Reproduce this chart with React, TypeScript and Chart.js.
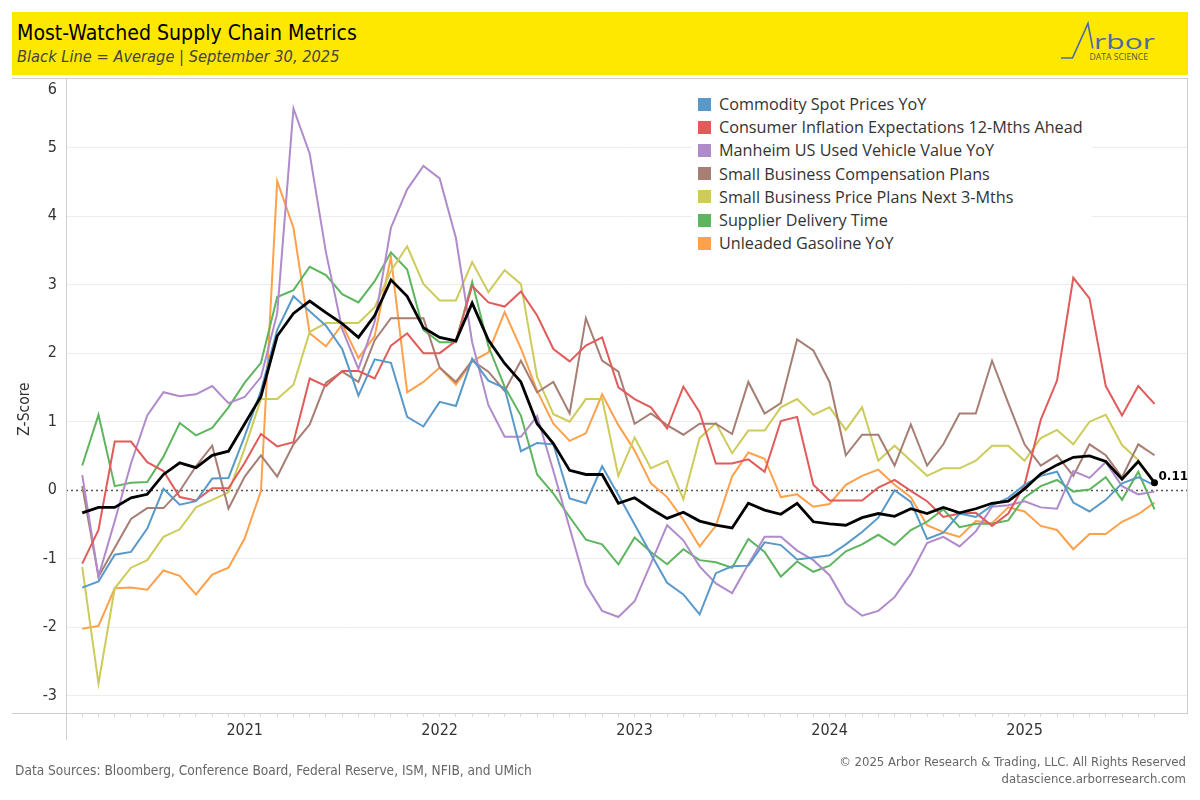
import React, { useEffect, useRef } from "react";
import { Chart, registerables } from "chart.js";

Chart.register(...registerables);

// Monthly observations, Mar 2020 – Sep 2025
const months = [
  "2020-03", "2020-04", "2020-05", "2020-06", "2020-07", "2020-08", "2020-09", "2020-10", "2020-11", "2020-12",
  "2021-01", "2021-02", "2021-03", "2021-04", "2021-05", "2021-06", "2021-07", "2021-08", "2021-09", "2021-10", "2021-11", "2021-12",
  "2022-01", "2022-02", "2022-03", "2022-04", "2022-05", "2022-06", "2022-07", "2022-08", "2022-09", "2022-10", "2022-11", "2022-12",
  "2023-01", "2023-02", "2023-03", "2023-04", "2023-05", "2023-06", "2023-07", "2023-08", "2023-09", "2023-10", "2023-11", "2023-12",
  "2024-01", "2024-02", "2024-03", "2024-04", "2024-05", "2024-06", "2024-07", "2024-08", "2024-09", "2024-10", "2024-11", "2024-12",
  "2025-01", "2025-02", "2025-03", "2025-04", "2025-05", "2025-06", "2025-07", "2025-08", "2025-09",
];

const commoditySpot = [
  -1.42, -1.33, -0.94, -0.9, -0.56, 0.02, -0.21, -0.16, 0.17, 0.18,
  0.79, 1.45, 2.34, 2.83, 2.61, 2.4, 2.06, 1.38, 1.91, 1.86, 1.07, 0.93,
  1.29, 1.23, 1.92, 1.6, 1.49, 0.57, 0.69, 0.67, -0.12, -0.19, 0.35, -0.07,
  -0.5, -0.93, -1.35, -1.52, -1.81, -1.21, -1.11, -1.1, -0.76, -0.8, -1.01, -0.98,
  -0.95, -0.79, -0.61, -0.4, 0.0, -0.17, -0.71, -0.62, -0.34, -0.39, -0.22, -0.11,
  0.08, 0.21, 0.27, -0.18, -0.31, -0.14, 0.1, 0.19, 0.07,
];

const inflationExpectations = [
  -1.07, -0.58, 0.71, 0.71, 0.41, 0.28, -0.1, -0.15, 0.03, 0.03,
  0.4, 0.82, 0.64, 0.7, 1.63, 1.52, 1.74, 1.74, 1.63, 2.11, 2.29, 2.0,
  2.0, 2.18, 2.98, 2.74, 2.68, 2.9, 2.55, 2.06, 1.88, 2.11, 2.23, 1.5,
  1.33, 1.21, 0.9, 1.51, 1.14, 0.39, 0.39, 0.45, 0.27, 1.01, 1.07, 0.08,
  -0.15, -0.15, -0.15, 0.04, 0.15, -0.01, -0.16, -0.39, -0.34, -0.33, -0.52, -0.34,
  0.08, 1.03, 1.6, 3.1, 2.8, 1.52, 1.09, 1.52, 1.26,
];

const manheimUsedVehicles = [
  0.22, -1.26, -0.45, 0.39, 1.09, 1.43, 1.37, 1.4, 1.52, 1.27,
  1.36, 1.65, 2.58, 5.57, 4.91, 3.47, 2.35, 1.77, 2.46, 3.83, 4.39, 4.73,
  4.55, 3.68, 2.16, 1.24, 0.78, 0.78, 1.08, 0.28, -0.55, -1.38, -1.76, -1.85,
  -1.62, -1.07, -0.51, -0.73, -1.11, -1.36, -1.5, -1.08, -0.68, -0.68, -0.88, -1.02,
  -1.24, -1.65, -1.83, -1.76, -1.56, -1.22, -0.77, -0.68, -0.82, -0.6, -0.24, -0.22,
  -0.16, -0.25, -0.27, 0.28, 0.18, 0.41, 0.06, -0.06, -0.02,
];

const compensationPlans = [
  0.06, -1.26, -0.84, -0.42, -0.26, -0.26, -0.01, 0.35, 0.65, -0.27,
  0.2, 0.51, 0.2, 0.67, 0.96, 1.57, 1.73, 1.58, 2.19, 2.51, 2.51, 2.51,
  1.79, 1.58, 1.89, 1.73, 1.45, 1.89, 1.43, 1.58, 1.12, 2.51, 1.89, 1.73,
  0.97, 1.12, 0.95, 0.81, 0.97, 0.97, 0.82, 1.58, 1.12, 1.27, 2.2, 2.04,
  1.58, 0.51, 0.81, 0.81, 0.36, 0.96, 0.36, 0.67, 1.12, 1.12, 1.89, 1.27,
  0.67, 0.36, 0.51, 0.21, 0.67, 0.51, 0.19, 0.67, 0.51,
];

const pricePlans = [
  -1.12, -2.82, -1.43, -1.13, -1.02, -0.68, -0.57, -0.25, -0.14, -0.03,
  0.61, 1.33, 1.33, 1.54, 2.31, 2.44, 2.44, 2.44, 2.67, 3.2, 3.56, 3.01,
  2.77, 2.77, 3.33, 2.89, 3.21, 3.01, 1.65, 1.11, 1.0, 1.33, 1.33, 0.21,
  0.77, 0.32, 0.43, -0.13, 0.76, 0.98, 0.54, 0.87, 0.87, 1.21, 1.33, 1.1,
  1.21, 0.88, 1.21, 0.43, 0.65, 0.43, 0.21, 0.32, 0.32, 0.43, 0.65, 0.65,
  0.43, 0.76, 0.88, 0.67, 1.0, 1.1, 0.66, 0.44, null,
];

const supplierDeliveries = [
  0.36, 1.1, 0.06, 0.11, 0.12, 0.49, 0.98, 0.8, 0.91, 1.21,
  1.57, 1.86, 2.82, 2.92, 3.26, 3.14, 2.86, 2.74, 3.05, 3.47, 3.22, 2.34,
  2.16, 2.16, 3.04, 2.1, 1.51, 1.09, 0.23, -0.05, -0.39, -0.72, -0.79, -1.08,
  -0.69, -0.9, -1.08, -0.86, -1.02, -1.05, -1.13, -0.71, -0.9, -1.26, -1.04, -1.19,
  -1.1, -0.89, -0.79, -0.65, -0.8, -0.58, -0.46, -0.28, -0.54, -0.49, -0.49, -0.44,
  -0.11, 0.06, 0.15, -0.02, 0.01, 0.19, -0.14, 0.27, -0.28,
];

const gasoline = [
  -2.02, -1.98, -1.43, -1.42, -1.45, -1.17, -1.25, -1.52, -1.23, -1.13,
  -0.7, -0.01, 4.51, 3.83, 2.29, 2.1, 2.42, 1.93, 2.25, 3.4, 1.43, 1.58,
  1.79, 1.54, 1.88, 2.01, 2.6, 2.07, 1.45, 0.97, 0.72, 0.83, 1.4, 0.95,
  0.58, 0.1, -0.1, -0.43, -0.82, -0.52, 0.2, 0.55, 0.46, -0.1, -0.06, -0.24,
  -0.2, 0.08, 0.21, 0.3, 0.08, -0.1, -0.51, -0.61, -0.68, -0.45, -0.48, -0.25,
  -0.31, -0.52, -0.58, -0.86, -0.64, -0.64, -0.46, -0.35, -0.18,
];

const average = [
  -0.33, -0.25, -0.25, -0.11, -0.06, 0.23, 0.4, 0.33, 0.51, 0.57,
  0.97, 1.37, 2.25, 2.58, 2.76, 2.59, 2.43, 2.23, 2.55, 3.07, 2.83, 2.37,
  2.23, 2.18, 2.73, 2.19, 1.85, 1.58, 0.97, 0.68, 0.29, 0.23, 0.23, -0.19,
  -0.11, -0.27, -0.41, -0.32, -0.45, -0.51, -0.55, -0.19, -0.29, -0.35, -0.19, -0.46,
  -0.49, -0.51, -0.4, -0.34, -0.38, -0.27, -0.34, -0.25, -0.33, -0.27, -0.19, -0.16,
  0.02, 0.24, 0.37, 0.48, 0.5, 0.42, 0.16, 0.42, 0.11,
];

const seriesNames = [
  "Commodity Spot Prices YoY",
  "Consumer Inflation Expectations 12-Mths Ahead",
  "Manheim US Used Vehicle Value YoY",
  "Small Business Compensation Plans",
  "Small Business Price Plans Next 3-Mths",
  "Supplier Delivery Time",
  "Unleaded Gasoline YoY",
];

const seriesColors = ["#5899ca", "#e15b5b", "#b08bcc", "#a67e73", "#cdcb5a", "#5db55e", "#ffa04b"];

const yTickValues = [-3, -2, -1, 0, 1, 2, 3, 4, 5, 6];
const yearLabels = ["2021", "2022", "2023", "2024", "2025"];

const NARROW = "'DejaVu Sans Condensed', 'Liberation Sans Narrow', 'DejaVu Sans', sans-serif";
const LEGEND_FONT = "'Open Sans', 'DejaVu Sans', sans-serif";

export default function App() {
  const canvasRef = useRef<HTMLCanvasElement | null>(null);

  useEffect(() => {
    const canvas = canvasRef.current;
    if (!canvas) return;
    const seriesData = [
      commoditySpot,
      inflationExpectations,
      manheimUsedVehicles,
      compensationPlans,
      pricePlans,
      supplierDeliveries,
      gasoline,
    ];
    const toXY = (arr: (number | null)[]) => arr.map((v, i) => ({ x: i, y: v }));
    const lastIdx = average.length - 1;

    const overlay = {
      id: "overlay",
      beforeDatasetsDraw(chart: any) {
        const { ctx, chartArea } = chart;
        const y0 = chart.scales.y.getPixelForValue(0);
        ctx.save();
        ctx.strokeStyle = "#555";
        ctx.lineWidth = 1.3;
        ctx.setLineDash([2, 3]);
        ctx.beginPath();
        ctx.moveTo(chartArea.left, Math.round(y0) + 0.5);
        ctx.lineTo(chartArea.right, Math.round(y0) + 0.5);
        ctx.stroke();
        ctx.restore();
      },
      afterDraw(chart: any) {
        const { ctx, chartArea } = chart;
        const ys = chart.scales.y;
        ctx.save();
        // frame lines
        ctx.strokeStyle = "#cfcfcf";
        ctx.lineWidth = 1;
        ctx.beginPath();
        ctx.moveTo(12, chartArea.top - 0.5);
        ctx.lineTo(1188, chartArea.top - 0.5);
        ctx.moveTo(12, chartArea.bottom + 0.5);
        ctx.lineTo(1188, chartArea.bottom + 0.5);
        ctx.moveTo(chartArea.left + 0.5, chartArea.top);
        ctx.lineTo(chartArea.left + 0.5, chartArea.bottom + 27);
        ctx.moveTo(chartArea.right + 0.5, chartArea.top);
        ctx.lineTo(chartArea.right + 0.5, chartArea.bottom);
        ctx.stroke();

        // top tick label, nudged inside the pane
        const top = yTickValues[yTickValues.length - 1];
        ctx.fillStyle = "#333";
        ctx.font = `16px ${NARROW}`;
        ctx.textAlign = "right";
        ctx.textBaseline = "middle";
        ctx.fillText(String(top), chartArea.left - 9, ys.getPixelForValue(top) + 11);

        // axis title
        ctx.save();
        ctx.translate(25, (chartArea.top + chartArea.bottom) / 2 + 13);
        ctx.rotate(-Math.PI / 2);
        ctx.textAlign = "center";
        ctx.font = `15.5px ${NARROW}`;
        ctx.fillStyle = "#333";
        ctx.fillText("Z-Score", 0, 0);
        ctx.restore();

        // last value label of the average line
        const meta = chart.getDatasetMeta(0);
        const pt = meta.data[lastIdx];
        ctx.font = `bold 12px 'DejaVu Sans', sans-serif`;
        ctx.textAlign = "left";
        ctx.textBaseline = "middle";
        ctx.fillStyle = "#000";
        ctx.fillText(average[lastIdx].toFixed(2), pt.x + 4, pt.y - 6);
        ctx.restore();
      },
    };

    const chart = new Chart(canvas, {
      type: "line",
      data: {
        datasets: [
          {
            label: "Average",
            data: toXY(average),
            borderColor: "#000",
            backgroundColor: "#000",
            borderWidth: 2.8,
            order: 0,
            pointRadius: (c: any) => (c.dataIndex === lastIdx ? 3.5 : 0),
            pointBorderWidth: 0,
            pointBackgroundColor: "#000",
            tension: 0,
          },
          ...seriesData.map((s, k) => ({
            label: seriesNames[k],
            data: toXY(s),
            borderColor: seriesColors[k],
            backgroundColor: seriesColors[k],
            borderWidth: 2,
            pointRadius: 0,
            order: k + 1,
            tension: 0,
          })),
        ],
      },
      options: {
        animation: false,
        responsive: false,
        layout: { padding: { top: 79, left: 0, right: 13, bottom: 52 } },
        plugins: { legend: { display: false }, tooltip: { enabled: false } },
        scales: {
          x: {
            type: "linear",
            min: -1,
            max: 68,
            afterBuildTicks: (s: any) => {
              s.ticks = months.map((_, i) => ({ value: i }));
            },
            afterFit: (s: any) => {
              s.height = 35;
            },
            ticks: {
              autoSkip: false,
              maxRotation: 0,
              padding: 4,
              color: "#333",
              font: { family: NARROW, size: 16 },
              callback: (v: any) => {
                const m = months[v as number];
                if (!m || !m.endsWith("-01")) return "";
                const yr = m.slice(0, 4);
                return yearLabels.includes(yr) ? yr : "";
              },
            },
            grid: { drawOnChartArea: false, drawTicks: true, tickLength: 4, tickColor: "#dcdcdc" },
            border: { display: false },
          },
          y: {
            min: -3.25,
            max: 6,
            afterBuildTicks: (s: any) => {
              s.ticks = yTickValues.map((v) => ({ value: v }));
            },
            afterFit: (s: any) => {
              s.width = 66;
            },
            ticks: {
              padding: 9,
              color: "#333",
              font: { family: NARROW, size: 16 },
              callback: (v: any) => (v === yTickValues[yTickValues.length - 1] ? "" : String(v)),
            },
            grid: {
              drawTicks: false,
              color: (c: any) => (c.tick && (c.tick.value === 0 || c.tick.value === 6) ? "rgba(0,0,0,0)" : "#ececec"),
            },
            border: { display: false },
          },
        },
      },
      plugins: [overlay],
    } as any);
    return () => chart.destroy();
  }, []);

  return (
    <div style={{ position: "fixed", left: 0, top: 0, width: 1200, height: 800, background: "#fff", overflow: "hidden" }}>
      <canvas ref={canvasRef} width={1200} height={800} style={{ position: "absolute", left: 0, top: 0, width: 1200, height: 800 }} />
      <div style={{ position: "absolute", left: 12, top: 12, width: 1176, height: 63, background: "#ffe800" }}>
        <div style={{ position: "absolute", left: 5, top: 9, fontFamily: NARROW, fontSize: 21.1, lineHeight: "24px", color: "#000", whiteSpace: "nowrap" }}>
          Most-Watched Supply Chain Metrics
        </div>
        <div style={{ position: "absolute", left: 5, top: 35, fontFamily: NARROW, fontStyle: "italic", fontSize: 16.3, lineHeight: "20px", color: "#444", whiteSpace: "nowrap" }}>
          Black Line = Average | September 30, 2025
        </div>
        <svg width={150} height={63} viewBox="1040 12 150 63" style={{ position: "absolute", left: 1028, top: 0 }}>
          <path d="M1061,58 H1072.5 L1088,23.5 L1092.8,48.5" fill="none" stroke="#4a6aa6" strokeWidth={1.6} />
          <text x={1094} y={48.7} fontFamily="'Open Sans', sans-serif" fontSize={20} fill="#4a6aa6" textLength={61} lengthAdjust="spacingAndGlyphs">rbor</text>
          <text x={1089.5} y={60.3} fontFamily="'Open Sans', sans-serif" fontSize={9} fill="#555" textLength={58.5} lengthAdjust="spacingAndGlyphs">DATA SCIENCE</text>
        </svg>
      </div>
      <div style={{ position: "absolute", left: 692, top: 90, width: 400, height: 164, background: "#fff" }}>
        {seriesNames.map((n, k) => (
          <div key={n} style={{ position: "absolute", left: 6, top: 14 + k * 23.2 - 11, height: 22, display: "flex", alignItems: "center", whiteSpace: "nowrap" }}>
            <span style={{ display: "inline-block", width: 13, height: 13, background: seriesColors[k], marginRight: 8 }} />
            <span style={{ fontFamily: LEGEND_FONT, fontSize: 16.2, color: "#333" }}>{n}</span>
          </div>
        ))}
      </div>
      <div style={{ position: "absolute", left: 15, top: 761, fontFamily: NARROW, fontSize: 13.6, lineHeight: "18px", color: "#666", whiteSpace: "nowrap" }}>
        Data Sources: Bloomberg, Conference Board, Federal Reserve, ISM, NFIB, and UMich
      </div>
      <div style={{ position: "absolute", right: 14, top: 753, fontFamily: NARROW, fontSize: 13, lineHeight: "17px", color: "#666", whiteSpace: "nowrap", textAlign: "right" }}>
        <div>© 2025 Arbor Research &amp; Trading, LLC. All Rights Reserved</div>
        <div>datascience.arborresearch.com</div>
      </div>
    </div>
  );
}
